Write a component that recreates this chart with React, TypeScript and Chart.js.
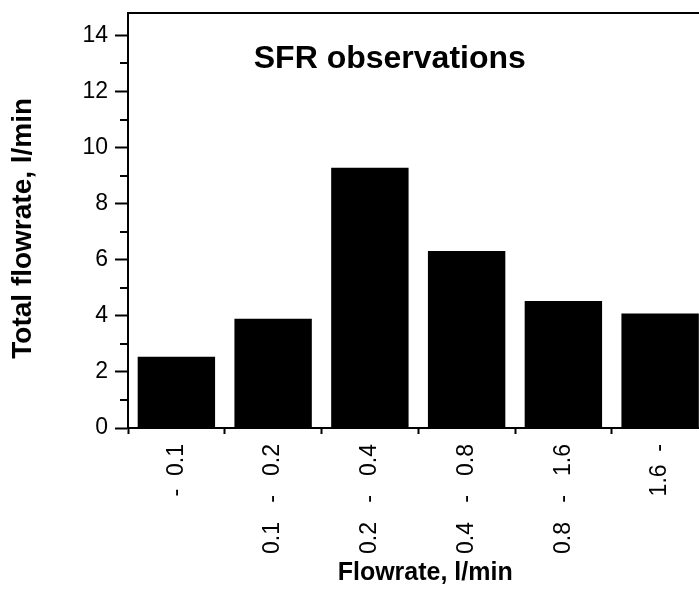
import React, { useEffect, useRef } from "react";
import { Chart, registerables } from "chart.js";

Chart.register(...registerables);

const categories = ["-  0.1", "0.1   -   0.2", "0.2   -   0.4", "0.4   -   0.8", "0.8   -   1.6", "1.6  -"];
const totalFlow = [2.54, 3.9, 9.28, 6.31, 4.53, 4.08];
const yMin = 0;
const yMax = 14.8;
const yMajorTicks = [0, 2, 4, 6, 8, 10, 12, 14];
const yMinorTicks = [1, 3, 5, 7, 9, 11, 13];
const chartTitle = "SFR observations";
const xTitle = "  Flowrate, l/min";
const yTitle = "Total flowrate, l/min  ";

const FONT = '"Liberation Sans", Arial, Helvetica, sans-serif';

const decorPlugin = {
  id: "decor",
  afterDraw(chart: any) {
    const { ctx, chartArea: a, scales } = chart;
    const y = scales.y;
    ctx.save();
    ctx.strokeStyle = "#000";
    ctx.lineWidth = 2;
    ctx.beginPath();
    ctx.moveTo(a.left - 1, a.top);
    ctx.lineTo(a.right, a.top);
    ctx.stroke();
    ctx.beginPath();
    yMinorTicks.forEach((v) => {
      const py = Math.round(y.getPixelForValue(v));
      ctx.moveTo(a.left - 8, py);
      ctx.lineTo(a.left, py);
    });
    ctx.stroke();
    ctx.fillStyle = "#000";
    ctx.font = "bold 32px " + FONT;
    ctx.textAlign = "center";
    ctx.textBaseline = "alphabetic";
    const cx = a.left + (a.right - a.left) * 0.451;
    const cy = y.getPixelForValue(12.85);
    ctx.fillText(chartTitle, cx, cy);
    ctx.restore();
  },
};

export default function App() {
  const ref = useRef<HTMLCanvasElement>(null);
  useEffect(() => {
    if (!ref.current) return;
    const chart = new Chart(ref.current, {
      type: "bar",
      data: {
        labels: categories,
        datasets: [
          {
            data: totalFlow,
            backgroundColor: "#000",
            borderWidth: 0,
            barPercentage: 0.8,
            categoryPercentage: 1.0,
          },
        ],
      },
      options: {
        animation: false,
        responsive: false,
        devicePixelRatio: 1,
        layout: { padding: { left: 0, right: 11.5, top: 13, bottom: 0 } },
        plugins: {
          legend: { display: false },
          tooltip: { enabled: false },
          title: { display: false },
        },
        scales: {
          x: {
            type: "category",
            offset: true,
            grid: {
              display: true,
              drawOnChartArea: false,
              drawTicks: true,
              tickLength: 6,
              tickWidth: 2,
              tickColor: "#000",
              offset: true,
            },
            border: { display: true, color: "#000", width: 2 },
            ticks: {
              autoSkip: false,
              minRotation: 90,
              maxRotation: 90,
              padding: 10,
              color: "#000",
              font: { family: FONT, size: 23 },
            },
            title: {
              display: true,
              text: xTitle,
              color: "#000",
              font: { family: FONT, size: 25, weight: "bold" },
              padding: { top: 0, bottom: 1 },
            },
            afterFit: (s: any) => {
              s.height = 161;
              s.paddingLeft = 0;
              s.paddingRight = 0;
            },
          },
          y: {
            type: "linear",
            min: yMin,
            max: yMax,
            grid: {
              display: true,
              drawOnChartArea: false,
              drawTicks: true,
              tickLength: 13,
              tickWidth: 2,
              tickColor: "#000",
            },
            border: { display: true, color: "#000", width: 2 },
            ticks: {
              padding: 7,
              color: "#000",
              font: { family: FONT, size: 23 },
            },
            afterBuildTicks: (s: any) => {
              s.ticks = yMajorTicks.map((v) => ({ value: v }));
            },
            title: {
              display: true,
              text: yTitle,
              color: "#000",
              font: { family: FONT, size: 28, weight: "bold" },
              padding: { top: 6, bottom: 0 },
            },
            afterFit: (s: any) => {
              s.width = 128;
              s.paddingTop = 0;
              s.paddingBottom = 0;
            },
          },
        },
      },
      plugins: [decorPlugin],
    });
    return () => chart.destroy();
  }, []);

  return (
    <div style={{ position: "absolute", left: 0, top: 0, width: 699, height: 589, overflow: "hidden", background: "#fff" }}>
      <canvas ref={ref} width={720} height={589} style={{ width: 720, height: 589, display: "block" }} />
    </div>
  );
}
